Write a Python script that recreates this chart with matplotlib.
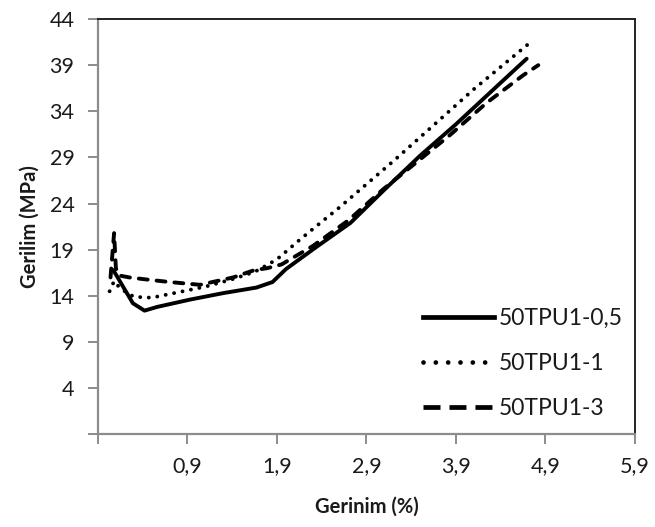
import matplotlib
matplotlib.use("Agg")
import matplotlib.pyplot as plt
from matplotlib.lines import Line2D

plt.rcParams['font.family'] = ['Lato', 'DejaVu Sans']

# Stress-strain curves (strain %, stress MPa)
strain_05 = [0.07, 0.12, 0.18, 0.29, 0.42, 0.56, 0.93, 1.30, 1.67, 1.85, 2.00, 2.34,
             2.72, 3.10, 3.50, 3.90, 4.30, 4.69]
stress_05 = [16.8, 16.0, 15.0, 13.2, 12.4, 12.8, 13.6, 14.3, 14.9, 15.5, 16.9, 19.3,
             21.9, 25.5, 29.2, 32.6, 36.2, 39.7]

strain_1 = [0.03, 0.08, 0.15, 0.30, 0.50, 0.80, 1.10, 1.40, 1.65, 1.82, 1.93, 2.12,
            2.32, 2.60, 3.20, 3.57, 4.10, 4.71]
stress_1 = [14.5, 15.6, 14.8, 13.9, 13.8, 14.4, 15.0, 15.8, 16.6, 17.5, 18.2, 19.8,
            21.4, 23.6, 28.6, 31.8, 36.4, 41.3]

strain_3 = [0.04, 0.08, 0.10, 0.14, 0.25, 0.42, 0.70, 1.04, 1.41, 1.65, 1.79, 1.95,
            2.30, 2.70, 3.08, 3.50, 3.83, 4.24, 4.65, 4.82]
stress_3 = [16.0, 20.8, 17.0, 16.2, 16.0, 15.8, 15.5, 15.2, 16.0, 16.8, 17.0, 17.4,
            19.4, 22.2, 25.5, 28.8, 31.4, 34.9, 37.9, 39.0]

series_names = ['50TPU1-0,5', '50TPU1-1', '50TPU1-3']

x_ticks = [-0.1, 0.9, 1.9, 2.9, 3.9, 4.9, 5.9]
x_ticklabels = ['', '0,9', '1,9', '2,9', '3,9', '4,9', '5,9']
y_ticks = [-1, 4, 9, 14, 19, 24, 29, 34, 39, 44]
y_ticklabels = ['', '4', '9', '14', '19', '24', '29', '34', '39', '44']

fig = plt.figure(figsize=(6.55, 5.27), dpi=100)
ax = fig.add_axes([0.1496, 0.1759, 0.8198, 0.788])

lw = 2.8
ax.plot(strain_05, stress_05, color='black', lw=lw, solid_capstyle='round',
        solid_joinstyle='round')
ax.plot(strain_1, stress_1, color='black', lw=lw, linestyle=(0, (0.01, 2.2)),
        dash_capstyle='round')
ax.plot(strain_3, stress_3, color='black', lw=lw, linestyle=(0, (2.3, 2.3)),
        dash_capstyle='round')

ax.set_xlim(-0.1, 5.9)
ax.set_ylim(-1, 44)
ax.set_xticks(x_ticks)
ax.set_xticklabels(x_ticklabels)
ax.set_yticks(y_ticks)
ax.set_yticklabels(y_ticklabels)

grey = '#8c8c8c'
for side in ['left', 'bottom']:
    ax.spines[side].set_color(grey)
    ax.spines[side].set_linewidth(1.6)
for side in ['top', 'right']:
    ax.spines[side].set_color('#222222')
    ax.spines[side].set_linewidth(1.4)

ax.tick_params(axis='both', direction='out', length=7, width=1.4, color=grey,
               labelsize=15.5, labelcolor='#1a1a1a')
ax.tick_params(axis='x', pad=9)
ax.tick_params(axis='y', pad=10)

ax.set_xlabel('Gerinim (%)', fontsize=14.5, fontweight='bold', color='#1a1a1a')
ax.set_ylabel('Gerilim (MPa)', fontsize=14.5, fontweight='bold', color='#1a1a1a')
ax.xaxis.set_label_coords(0.5, -0.15)
ax.yaxis.set_label_coords(-0.108, 0.5)

handles = [
    Line2D([], [], color='black', lw=3.4),
    Line2D([], [], color='black', lw=3.4, linestyle=(0, (0.01, 2.6)),
           dash_capstyle='round'),
    Line2D([], [], color='black', lw=3.4, linestyle=(0, (3.6, 1.9)),
           dash_capstyle='butt'),
]
leg = ax.legend(handles, series_names, loc='lower left', frameon=False,
                fontsize=16.5, handlelength=3.1, handletextpad=0.2,
                labelspacing=1.04, borderaxespad=0.0,
                bbox_to_anchor=(0.588, 0.015))
for t in leg.get_texts():
    t.set_color('#1a1a1a')

fig.savefig('out.png', dpi=100, facecolor='white')
